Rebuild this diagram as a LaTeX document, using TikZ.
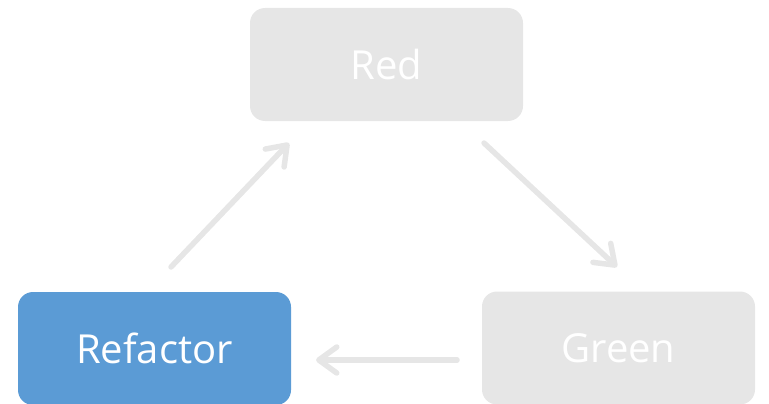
\documentclass[tikz,border=0pt]{standalone}
\usepackage{fontspec}
\setmainfont{Open Sans}
\usetikzlibrary{arrows.meta}
\definecolor{boxgray}{HTML}{E6E6E6}
\definecolor{arrowgray}{HTML}{E6E6E6}
\definecolor{officeblue}{HTML}{5B9BD5}
\tikzset{
  stagebox/.style={rounded corners=15pt, minimum width=273pt, minimum height=113pt, inner sep=0pt, text=white, font=\fontsize{40}{46}\selectfont},
  cyclearrow/.style={draw=arrowgray, line width=5.5pt, line cap=round, line join=round,
    -{Straight Barb[length=18pt, width=26pt, line cap=round, line join=round]}}
}
\begin{document}
\begin{tikzpicture}[x=1pt, y=-1pt]
\useasboundingbox (0,0) rectangle (769,404);
\node[stagebox, fill=boxgray] (red) at (386.5,64.5) {Red};
\node[stagebox, fill=boxgray] (green) at (618.5,348) {Green};
\node[stagebox, fill=officeblue] (refactor) at (154.5,348.5) {Refactor};
\coordinate (a1s) at (171,267);
\coordinate (a1e) at (289,143);
\coordinate (a2s) at (484,143);
\coordinate (a2e) at (617,267);
\coordinate (a3s) at (457,360);
\coordinate (a3e) at (316,360);
\draw[cyclearrow] (a1s) -- (a1e);
\draw[cyclearrow] (a2s) -- (a2e);
\draw[cyclearrow] (a3s) -- (a3e);
\end{tikzpicture}
\end{document}
